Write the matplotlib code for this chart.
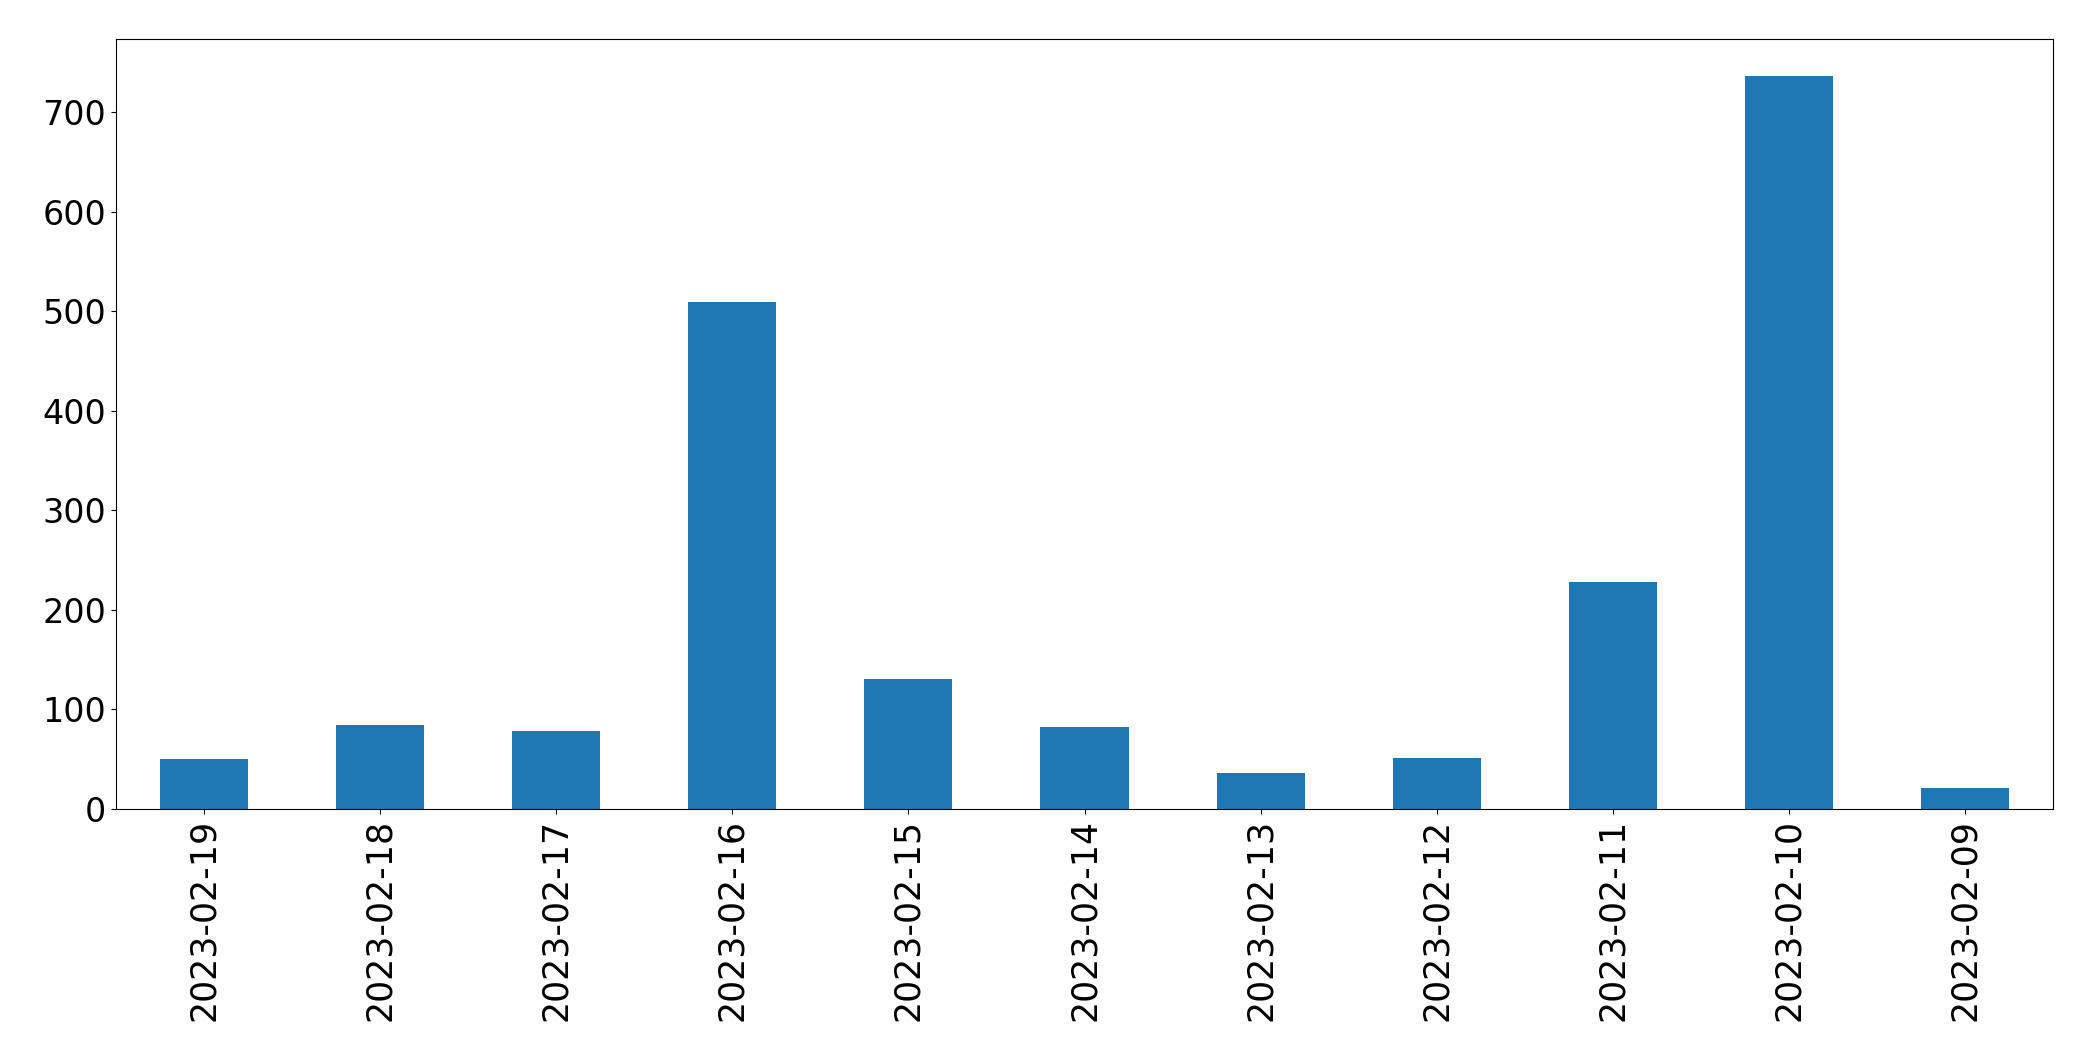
import matplotlib

matplotlib.use("Agg")
import matplotlib.pyplot as plt
import numpy as np

dates = [
    "2023-02-19", "2023-02-18", "2023-02-17", "2023-02-16", "2023-02-15",
    "2023-02-14", "2023-02-13", "2023-02-12", "2023-02-11", "2023-02-10",
    "2023-02-09",
]
counts = [50, 84, 78, 510, 131, 82, 36, 51, 228, 737, 21]

fig, ax = plt.subplots(figsize=(20.93, 10.61), dpi=100)
fig.subplots_adjust(left=116 / 2093, right=2053 / 2093, top=1 - 39 / 1061, bottom=1 - 809 / 1061)

x = np.arange(len(dates))
ax.bar(x, counts, width=0.5, color="#1f77b4")
ax.set_xlim(-0.5, len(dates) - 0.5)
ax.set_xticks(x)
ax.set_xticklabels(dates, rotation=90)
ax.tick_params(axis="y", labelsize=24)
ax.tick_params(axis="x", labelsize=25)

fig.savefig("out.png", dpi=100)
plt.close(fig)
